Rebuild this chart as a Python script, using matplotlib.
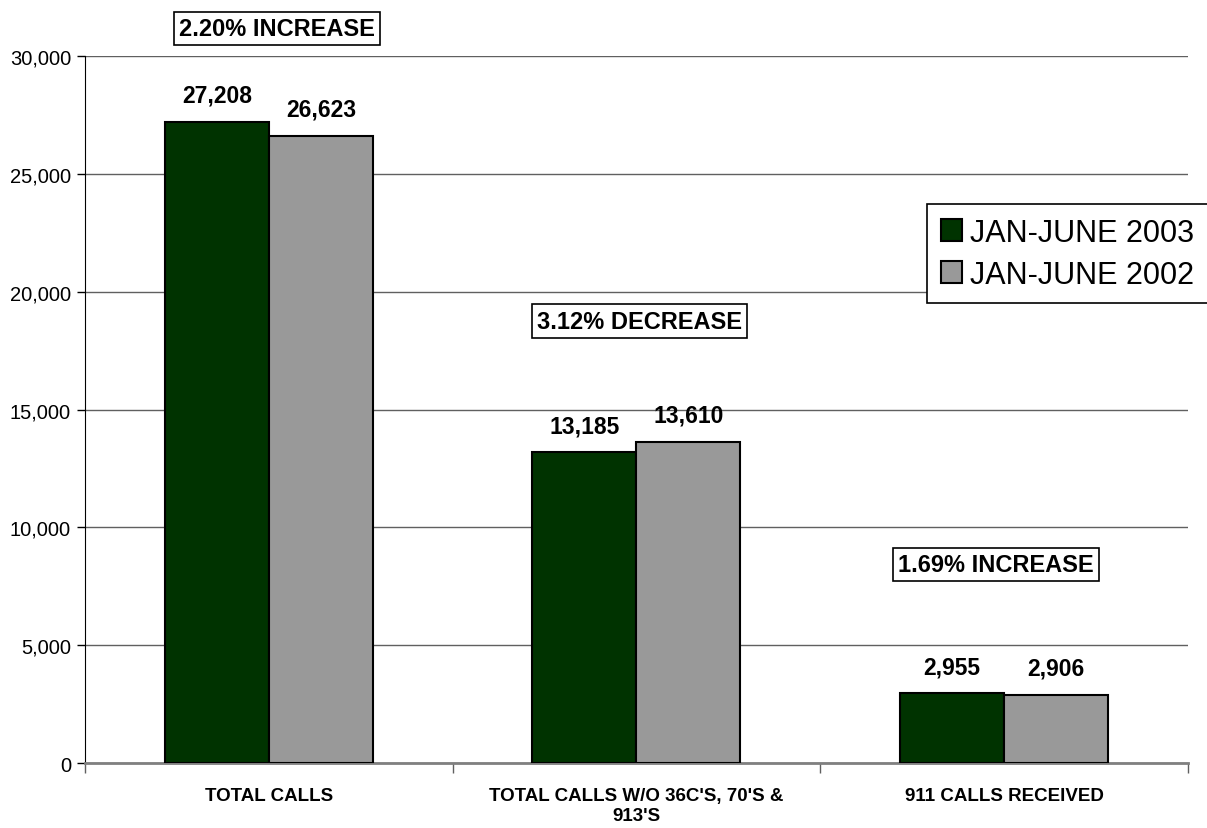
import numpy as np
import matplotlib
matplotlib.use('Agg')
import matplotlib.pyplot as plt
from matplotlib.ticker import FuncFormatter

plt.rcParams['font.family'] = ['Liberation Sans', 'DejaVu Sans']

""" Chart data """
categories = ["TOTAL CALLS", "TOTAL CALLS W/O 36C'S, 70'S &\n913'S", "911 CALLS RECEIVED"]
series_names = ["JAN-JUNE 2003", "JAN-JUNE 2002"]
calls_2003 = [27208, 13185, 2955]
calls_2002 = [26623, 13610, 2906]
change_labels = ["2.20% INCREASE", "3.12% DECREASE", "1.69% INCREASE"]

green = '#003300'
gray = '#999999'

fig = plt.figure(figsize=(12.07, 8.29), dpi=100)
ax = fig.add_axes([0.0704, 0.0784, 0.9138, 0.8528])

x = np.arange(len(categories))
width = 0.283

bars_a = ax.bar(x - width / 2, calls_2003, width, color=green, edgecolor='black',
                linewidth=1.5, label=series_names[0], zorder=3)
bars_b = ax.bar(x + width / 2, calls_2002, width, color=gray, edgecolor='black',
                linewidth=1.5, label=series_names[1], zorder=3)

""" Value labels above bars """
for bars in (bars_a, bars_b):
    for b in bars:
        ax.annotate(f"{int(b.get_height()):,}", (b.get_x() + b.get_width() / 2, b.get_height()),
                    xytext=(0, 11), textcoords='offset points', ha='center', va='bottom',
                    fontsize=16.5, fontweight='bold')

""" Axes setup """
ax.set_xlim(-0.5, 2.5)
ax.set_ylim(0, 30000)
ax.set_yticks(np.arange(0, 30001, 5000))
ax.yaxis.set_major_formatter(FuncFormatter(lambda v, p: f"{int(v):,}"))
ax.tick_params(axis='y', labelsize=14.5, length=6, width=1, direction='out', pad=4)
ax.grid(axis='y', color='#606060', linewidth=1, zorder=0)

ax.set_xticks(x)
ax.set_xticklabels(categories, fontsize=13.5, fontweight='bold', linespacing=1.25)
ax.tick_params(axis='x', which='major', length=0, pad=17)
ax.set_xticks([-0.5, 0.5, 1.5, 2.5], minor=True)
ax.tick_params(axis='x', which='minor', length=7, width=1, color='#606060', direction='out')

ax.spines['top'].set_visible(False)
ax.spines['right'].set_visible(False)
ax.spines['left'].set_color('black')
ax.spines['bottom'].set_color('#808080')
ax.spines['bottom'].set_linewidth(2)

""" Percent change boxes """
box_pos = [(0.174, 1.039), (0.503, 0.625), (0.826, 0.281)]
for text, (bx, by) in zip(change_labels, box_pos):
    ax.text(bx, by, text, transform=ax.transAxes, ha='center', va='center',
            fontsize=17, fontweight='bold',
            bbox=dict(boxstyle='square,pad=0.22', facecolor='white', edgecolor='black', linewidth=1.2),
            clip_on=False, zorder=5)

""" Legend """
leg = fig.legend(loc='upper left', bbox_to_anchor=(0.768, 0.753), fontsize=22,
                 frameon=True, fancybox=False, edgecolor='black', framealpha=1,
                 handlelength=0.7, handleheight=0.7, handletextpad=0.25,
                 borderpad=0.45, labelspacing=0.4, borderaxespad=0)
leg.get_frame().set_linewidth(1.2)

fig.savefig('out.png', dpi=100)
